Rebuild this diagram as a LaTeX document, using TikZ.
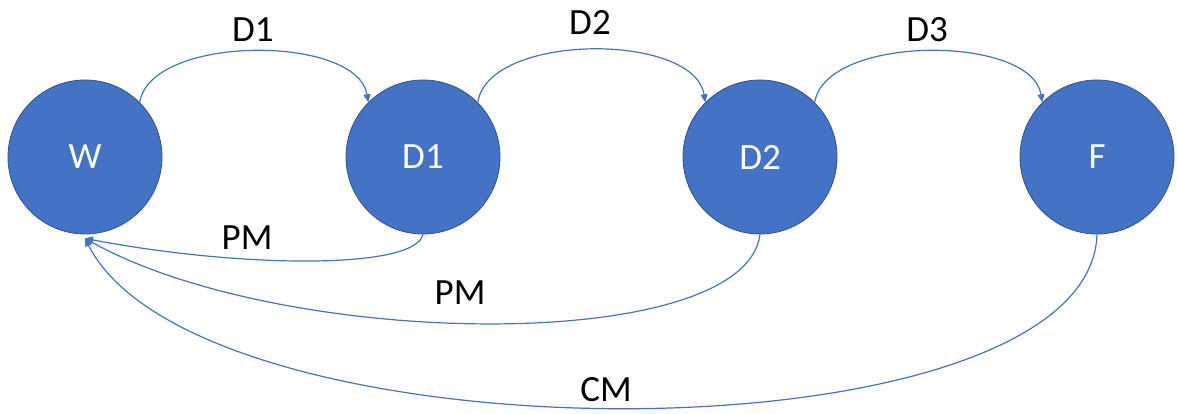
\documentclass[tikz,border=0pt]{standalone}
\usepackage{fontspec}
\setmainfont{Carlito}
\usetikzlibrary{arrows.meta,positioning}
\definecolor{stateblue}{HTML}{4472C4}
\definecolor{stateedge}{HTML}{2F528F}
\tikzset{
  state/.style={circle,fill=stateblue,draw=stateedge,line width=0.8pt,minimum size=154pt,inner sep=0pt,text=white,font=\fontsize{37}{40}\selectfont},
  move/.style={draw=stateblue,line width=1.2pt,-{Triangle[length=8pt,width=7pt]}},
  lbl/.style={font=\fontsize{37}{40}\selectfont,text=black}
}
\begin{document}
\begin{tikzpicture}[x=1pt,y=-1pt]
  \useasboundingbox (0,0) rectangle (1178,414);
  \node[state] (W) at (85,157) {W};
  \node[state] (D1) at (423,157) {D1};
  \node[state] (D2) at (760,157) {D2};
  \node[state] (F) at (1097,157) {F};
  % forward moves
  \draw[move] (W.45) .. controls +(11,-68) and +(-11,-68) .. (D1.135);
  \draw[move] (D1.45) .. controls +(11,-70) and +(-11,-70) .. (D2.135);
  \draw[move] (D2.45) .. controls +(11,-68) and +(-11,-68) .. (F.135);
  \node[lbl] (l1) at (253,30) {D1};
  \node[lbl] (l2) at (590,22) {D2};
  \node[lbl] (l3) at (927,30) {D3};
  % moves back to W
  \coordinate (w_in) at ([yshift=-4pt]W.south);
  \draw[move] (D1.south) .. controls (415,270) and (240,268) .. (w_in);
  \draw[move] (D2.south) .. controls (745,355) and (285,350) .. (w_in);
  \draw[move] (F.south) .. controls (1090,465) and (200,465) .. (w_in);
  \node[lbl] (l4) at (247,238) {PM};
  \node[lbl] (l5) at (460,293) {PM};
  \node[lbl] (l6) at (606,390) {CM};
\end{tikzpicture}
\end{document}
